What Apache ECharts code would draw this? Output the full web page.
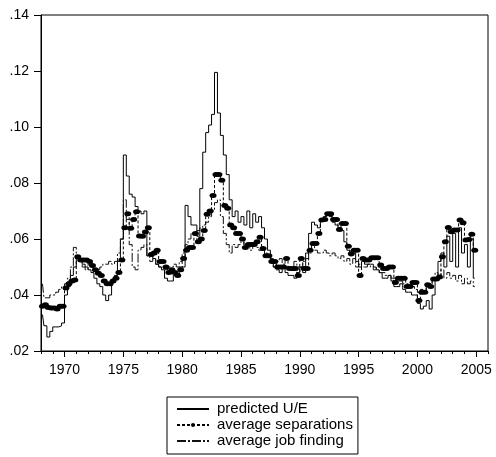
<!DOCTYPE html>
<html>
<head>
<meta charset="utf-8">
<script src="https://cdn.jsdelivr.net/npm/echarts@6/dist/echarts.min.js"></script>
<style>
html,body{margin:0;padding:0;background:#fff;}
#chart{width:496px;height:457px;}
</style>
</head>
<body>
<div id="chart"></div>
<script>
// Quarterly values, 1968Q1 .. 2004Q4
const startYear = 1968;
const seriesNames = ['predicted U/E', 'average separations', 'average job finding'];
const predictedUE = [
  .033, .029, .025, .027,   // 1968
  .0286, .0286, .029, .030, // 1969
  .040, .043, .047, .050,   // 1970
  .054, .052, .051, .050,   // 1971
  .049, .048, .046, .044,   // 1972
  .043, .040, .038, .040,   // 1973
  .045, .047, .052, .060,   // 1974
  .090, .0825, .076, .075,  // 1975
  .0716, .070, .069, .070,  // 1976
  .054, .055, .053, .051,   // 1977
  .050, .049, .046, .045,   // 1978
  .045, .047, .047, .050,   // 1979
  .050, .072, .068, .065,   // 1980
  .065, .061, .078, .091,   // 1981
  .098, .1007, .1045, .1195,// 1982
  .105, .097, .090, .083,   // 1983
  .074, .068, .070, .066,   // 1984
  .068, .065, .070, .064,   // 1985
  .069, .066, .068, .064,   // 1986
  .060, .056, .053, .050,   // 1987
  .049, .048, .050, .048,   // 1988
  .047, .047, .046, .048,   // 1989
  .050, .048, .055, .062,   // 1990
  .066, .065, .064, .067,   // 1991
  .068, .069, .068, .066,   // 1992
  .065, .064, .063, .059,   // 1993
  .056, .054, .055, .052,   // 1994
  .050, .052, .051, .051,   // 1995
  .051, .050, .049, .048,   // 1996
  .046, .046, .047, .045,   // 1997
  .043, .043, .044, .042,   // 1998
  .041, .041, .040, .040,   // 1999
  .037, .035, .036, .038,   // 2000
  .035, .040, .046, .052,   // 2001
  .055, .050, .061, .052,   // 2002
  .062, .050, .064, .055,   // 2003
  .058, .050, .060, .046    // 2004
];
const avgSeparations = [
  .036, .0365, .0355, .0354,  // 1968
  .0354, .035, .036, .036,    // 1969
  .0425, .044, .045, .0454,   // 1970
  .0537, .0525, .0525, .0525, // 1971
  .052, .0505, .049, .0478,   // 1972
  .047, .045, .044, .044,     // 1973
  .045, .046, .048, .0525,    // 1974
  .064, .069, .0638, .067,    // 1975
  .0697, .0611, .061, .0625,  // 1976
  .064, .0545, .055, .056,    // 1977
  .052, .052, .050, .048,     // 1978
  .049, .048, .047, .049,     // 1979
  .053, .056, .057, .057,     // 1980
  .062, .059, .060, .063,     // 1981
  .0688, .070, .0755, .083,   // 1982
  .083, .081, .072, .071,     // 1983
  .065, .064, .062, .062,     // 1984
  .060, .057, .058, .058,     // 1985
  .058, .059, .0606, .0566,   // 1986
  .054, .054, .052, .052,     // 1987
  .050, .050, .050, .053,     // 1988
  .0495, .0495, .0495, .047,  // 1989
  .053, .0495, .0495, .056,   // 1990
  .0584, .0584, .062, .0668,  // 1991
  .067, .069, .069, .067,     // 1992
  .067, .0634, .0655, .0655,  // 1993
  .0574, .0547, .056, .056,   // 1994
  .047, .053, .0525, .0525,   // 1995
  .0533, .0533, .0533, .0507, // 1996
  .0495, .0495, .050, .050,   // 1997
  .0445, .046, .046, .046,    // 1998
  .043, .043, .0445, .0445,   // 1999
  .038, .041, .041, .0437,    // 2000
  .043, .0457, .0457, .0464,  // 2001
  .0537, .059, .0641, .0626,  // 2002
  .0632, .0632, .0668, .0658, // 2003
  .0596, .0598, .0617, .056   // 2004
];
const avgJobFinding = [
  .044, .039, .039, .040,   // 1968
  .040, .041, .042, .043,   // 1969
  .044, .046, .050, .057,   // 1970
  .053, .052, .050, .049,   // 1971
  .051, .050, .049, .049,   // 1972
  .050, .051, .051, .052,   // 1973
  .051, .052, .055, .060,   // 1974
  .074, .067, .058, .050,   // 1975
  .049, .056, .057, .058,   // 1976
  .054, .052, .053, .051,   // 1977
  .050, .050, .049, .050,   // 1978
  .050, .051, .050, .052,   // 1979
  .055, .058, .060, .062,   // 1980
  .062, .063, .064, .065,   // 1981
  .066, .068, .070, .073,   // 1982
  .074, .068, .062, .058,   // 1983
  .055, .058, .057, .058,   // 1984
  .060, .057, .058, .056,   // 1985
  .058, .057, .056, .056,   // 1986
  .055, .054, .052, .050,   // 1987
  .052, .053, .051, .050,   // 1988
  .050, .049, .052, .050,   // 1989
  .050, .052, .053, .055,   // 1990
  .058, .056, .055, .055,   // 1991
  .056, .055, .054, .055,   // 1992
  .054, .053, .054, .052,   // 1993
  .053, .051, .053, .050,   // 1994
  .051, .050, .050, .051,   // 1995
  .050, .049, .050, .048,   // 1996
  .048, .047, .047, .046,   // 1997
  .046, .045, .045, .044,   // 1998
  .044, .043, .043, .042,   // 1999
  .041, .042, .041, .043,   // 2000
  .044, .046, .048, .047,   // 2001
  .049, .046, .048, .046,   // 2002
  .047, .045, .047, .044,   // 2003
  .046, .044, .045, .043    // 2004
];
const xMin = 1968, xMax = 2006;
const xLabelYears = [1970, 1975, 1980, 1985, 1990, 1995, 2000, 2005];
const yMin = 0.02, yMax = 0.14, yStep = 0.02;

function toPairs(arr) {
  return arr.map((v, i) => [startYear + i / 4 + 0.125, v]);
}

const FONT = '"Liberation Sans", Arial, sans-serif';
const hiddenSymbol = {opacity: 0, color: 'rgba(0,0,0,0)', borderWidth: 0};
const chart = echarts.init(document.getElementById('chart'), null, {renderer: 'canvas'});
chart.setOption({
  animation: false,
  backgroundColor: '#fff',
  grid: {left: 41, right: 8, top: 15, bottom: 106, show: true, borderColor: '#000', borderWidth: 1, backgroundColor: 'transparent'},
  xAxis: [{
    type: 'value', min: xMin, max: xMax, interval: 1, position: 'bottom',
    axisLine: {show: true, lineStyle: {color: '#000', width: 1}},
    axisTick: {show: true, length: 3, lineStyle: {color: '#000'}},
    axisLabel: {
      show: true, margin: 12, fontSize: 14, color: '#000', fontFamily: FONT,
      formatter: v => (xLabelYears.indexOf(Math.round(v)) >= 0 ? String(Math.round(v)) : '')
    },
    splitLine: {show: false}
  }, {
    type: 'value', min: xMin, max: xMax, position: 'bottom',
    axisLine: {show: false},
    axisTick: {show: true, length: 6, customValues: xLabelYears, lineStyle: {color: '#000'}},
    axisLabel: {show: false},
    splitLine: {show: false}
  }],
  yAxis: {
    type: 'value', min: yMin, max: yMax, interval: yStep,
    axisLine: {show: true, lineStyle: {color: '#000', width: 1}},
    axisTick: {show: true, length: 7, lineStyle: {color: '#000'}},
    axisLabel: {
      margin: 12, fontSize: 14, color: '#000', fontFamily: FONT,
      formatter: v => v.toFixed(2).replace(/^0/, '')
    },
    splitLine: {show: false}
  },
  legend: {
    orient: 'vertical', left: 167, top: 397,
    padding: [4, 5, 5, 9],
    itemWidth: 32, itemHeight: 5, itemGap: 0,
    borderColor: '#000', borderWidth: 1,
    textStyle: {fontSize: 15, lineHeight: 16, color: '#000', fontFamily: FONT, padding: [0, 0, 0, 3]},
    data: [
      {name: seriesNames[0], itemStyle: hiddenSymbol},
      {name: seriesNames[1]},
      {name: seriesNames[2], itemStyle: hiddenSymbol}
    ]
  },
  series: [{
    name: seriesNames[0], type: 'line', step: 'middle',
    data: toPairs(predictedUE), symbol: 'none',
    lineStyle: {color: '#000', width: 1},
    itemStyle: {color: '#000'}
  }, {
    name: seriesNames[1], type: 'line', step: 'middle',
    data: toPairs(avgSeparations), symbol: 'circle', symbolSize: [7, 5], showSymbol: true,
    lineStyle: {color: '#000', width: 1, type: [3, 2]},
    itemStyle: {color: '#000'}
  }, {
    name: seriesNames[2], type: 'line', step: 'middle',
    data: toPairs(avgJobFinding), symbol: 'none',
    lineStyle: {color: '#111', width: 1, type: [9, 2, 2, 2]},
    itemStyle: {color: '#111'}
  }]
});
</script>
</body>
</html>
